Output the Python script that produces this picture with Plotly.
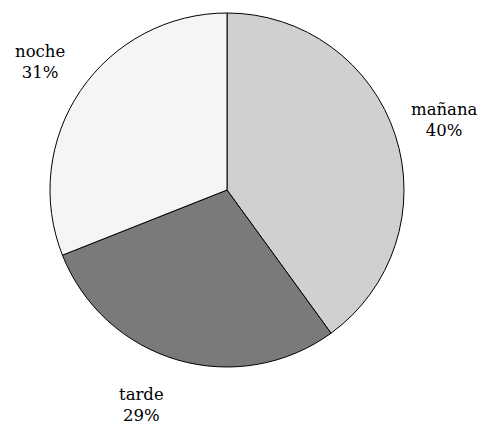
import plotly.graph_objects as go

labels = ["mañana", "tarde", "noche"]
values = [40, 29, 31]
colors = ["#d0d0d0", "#7a7a7a", "#f5f5f5"]

# label centre positions (pixels in the 479x425 frame)
label_x = [444, 141, 40]
label_y = [120, 405, 62]

W, H = 479, 425

fig = go.Figure(go.Pie(
    labels=labels,
    values=values,
    sort=False,
    direction="clockwise",
    rotation=0,
    textinfo="none",
    hoverinfo="label+percent",
    marker=dict(colors=colors, line=dict(color="black", width=1)),
    domain=dict(x=[50 / W, 404 / W], y=[1 - 367 / H, 1 - 13 / H]),
    showlegend=False,
))

total = sum(values)
for lab, v, x, y in zip(labels, values, label_x, label_y):
    fig.add_annotation(
        x=x / W, y=1 - y / H, xref="paper", yref="paper",
        xanchor="center", yanchor="middle",
        text=f"{lab}<br>{round(100 * v / total)}%",
        showarrow=False, align="center",
        font=dict(family="DejaVu Serif", size=16.5, color="black"),
    )

fig.update_layout(
    width=W, height=H,
    margin=dict(l=0, r=0, t=0, b=0),
    paper_bgcolor="white", plot_bgcolor="white",
)
fig.write_html(
    "out.html",
    config={"displayModeBar": False},
    post_script="document.body.style.margin='0';",
)
